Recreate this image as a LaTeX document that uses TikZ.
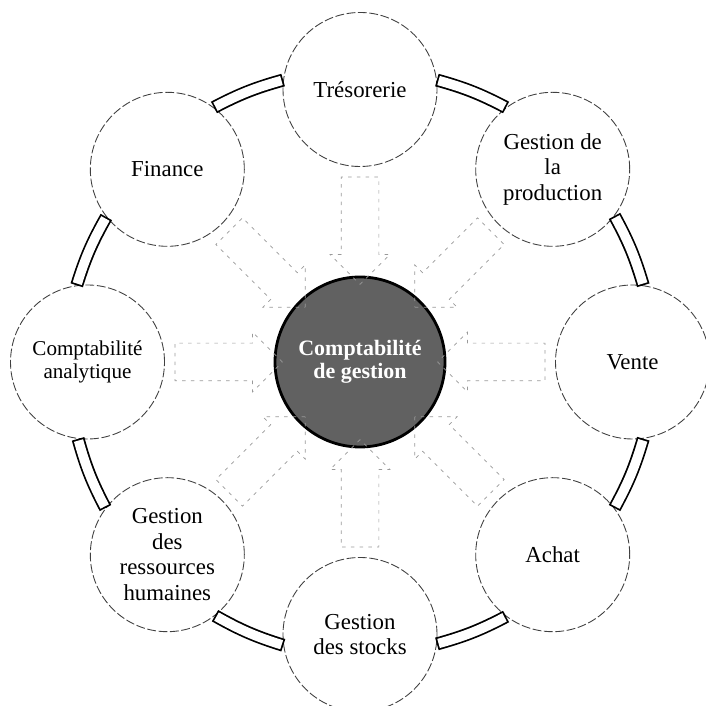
\documentclass[tikz,border=0pt]{standalone}
\usepackage{fontspec}
\setmainfont{Liberation Serif}
\usepackage{tikz}
\usetikzlibrary{arrows.meta, shapes.arrows}

\begin{document}
\begin{tikzpicture}[
  pole/.style={circle, draw=black!75, dash pattern=on 5pt off 1.5pt, line width=0.5pt, fill=white, minimum size=3.08cm, inner sep=0pt, align=center, font=\fontsize{13}{14.5}\selectfont},
  hub/.style={circle, draw=black, line width=1.6pt, fill=black!62, minimum size=3.4cm, inner sep=0pt, align=center, text=white, font=\fontsize{12.5}{13}\selectfont\bfseries},
  band/.style={draw=black, line width=0.26cm, postaction={draw=white, line width=0.19cm, shorten <=1pt, shorten >=1pt}},
  flow/.style={single arrow, draw=black!40, dash pattern=on 2pt off 3pt, line width=0.4pt, minimum height=2.15cm, inner xsep=0pt, inner ysep=0.37cm, single arrow head extend=0.22cm, sloped, allow upside down}
]
\useasboundingbox (0,0) rectangle (14.1,14.12);

\begin{scope}[shift={(7.2,6.88)}]
\node[hub] (cg) at (0,0) {Comptabilité\\de gestion};

\node[pole] (tre) at (90:5.45) {Trésorerie};
\node[pole] (prod) at (45:5.45) {Gestion de\\la\\production};
\node[pole] (vente) at (0:5.45) {Vente};
\node[pole] (achat) at (-45:5.45) {Achat};
\node[pole] (stock) at (-90:5.45) {Gestion\\des stocks};
\node[pole] (rh) at (-135:5.45) {Gestion\\des\\ressources\\humaines};
\node[pole, font=\fontsize{12}{13.5}\selectfont] (analyt) at (180:5.45) {Comptabilité\\analytique};
\node[pole] (fin) at (135:5.45) {Finance};
\end{scope}

% flux vers le centre
\foreach \p in {tre, prod, vente, achat, stock, rh, analyt, fin}
  \path (\p) -- node[flow] {} (cg);

% anneau
\foreach \a/\b/\t [evaluate=\t as \s using \t-82.5, evaluate=\t as \e using \t+37.5] in
  {tre/prod/90, prod/vente/45, vente/achat/0, achat/stock/-45,
   stock/rh/-90, rh/analyt/-135, analyt/fin/-180, fin/tre/-225}
  \draw[band] (\a.\s) to[bend left=6] (\b.\e);
\end{tikzpicture}
\end{document}
